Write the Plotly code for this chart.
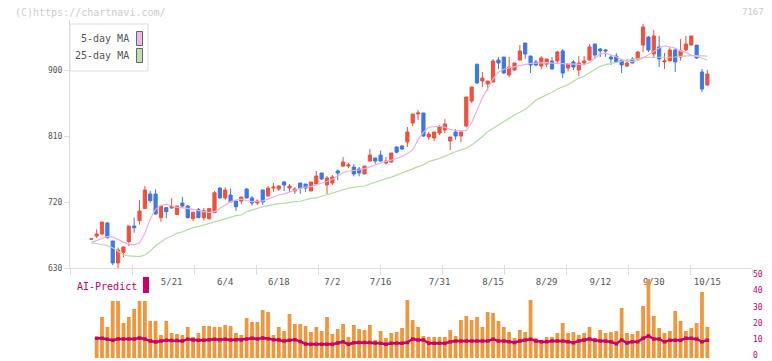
import plotly.graph_objects as go

# ---------------- data ----------------
opens = [669.5, 673.6, 676.4, 691.4, 666.8, 636.8, 651.4, 665.9, 687.3, 694.5,
         711.0, 730.9, 730.9, 698.6, 712.3, 711.8, 703.0, 718.6, 714.5, 697.3,
         709.6, 698.6, 697.3, 705.4, 739.0, 725.5, 729.5, 721.4, 721.4, 737.7,
         725.5, 718.6, 736.4, 728.2, 739.0, 737.7, 747.3, 739.0, 735.0, 745.9,
         744.5, 735.0, 744.5, 759.5, 743.2, 745.9, 762.3, 769.0, 769.0, 767.7,
         765.0, 758.2, 775.9, 780.0, 784.0, 773.2, 774.5, 795.0, 796.4, 801.8,
         827.7, 840.0, 841.4, 808.6, 807.3, 814.0, 818.2, 803.2, 815.5, 810.0,
         823.6, 857.7, 908.0, 885.0, 880.9, 883.6, 913.6, 917.7, 893.2, 900.0,
         913.6, 936.8, 919.0, 911.0, 905.4, 908.0, 912.3, 912.3, 926.0, 902.7,
         911.0, 900.0, 909.5, 913.6, 935.5, 928.6, 927.3, 917.7, 919.0, 913.6,
         905.4, 915.0, 915.0, 934.0, 945.0, 921.8, 931.4, 911.0, 912.3, 927.3,
         917.7, 927.3, 934.0, 934.0, 897.3, 879.5]
highs = [670.0, 682.8, 693.0, 692.7, 667.0, 657.7, 659.0, 687.5, 698.6, 722.3,
         741.8, 735.4, 737.3, 714.5, 713.0, 725.5, 714.5, 726.8, 716.0, 706.0,
         711.8, 711.8, 711.0, 735.0, 740.0, 740.0, 738.6, 721.4, 726.8, 739.0,
         728.2, 723.5, 736.4, 741.8, 746.0, 743.0, 748.6, 744.5, 740.4, 745.9,
         744.5, 747.3, 762.3, 759.5, 755.5, 756.8, 764.5, 781.4, 773.5, 771.8,
         767.7, 769.0, 792.3, 780.0, 790.0, 781.4, 786.8, 796.4, 797.0, 822.3,
         840.0, 845.5, 841.4, 815.5, 815.5, 825.0, 833.0, 808.6, 819.5, 815.5,
         863.2, 877.0, 908.0, 897.3, 885.0, 915.0, 917.7, 917.7, 918.0, 909.5,
         934.0, 937.0, 919.0, 913.6, 919.0, 915.0, 917.7, 926.0, 928.6, 908.0,
         913.6, 919.0, 919.0, 935.5, 935.5, 930.0, 928.6, 920.5, 923.0, 913.6,
         915.0, 917.7, 926.0, 962.7, 946.4, 954.5, 946.4, 923.2, 931.4, 930.0,
         942.3, 946.4, 946.4, 934.0, 901.4, 900.0]
lows = [669.0, 670.9, 675.0, 670.0, 634.0, 630.0, 645.0, 660.0, 678.0, 689.0,
        711.0, 719.0, 703.0, 693.0, 697.7, 711.0, 703.0, 711.4, 698.0, 693.6,
        698.0, 695.0, 696.0, 705.0, 725.0, 723.0, 720.0, 708.0, 717.0, 725.0,
        715.0, 716.0, 716.0, 728.0, 733.6, 735.0, 735.0, 733.6, 731.0, 731.0,
        733.6, 735.0, 743.0, 750.0, 731.0, 743.2, 750.0, 767.7, 766.0, 755.0,
        755.0, 758.0, 775.0, 772.0, 775.0, 771.0, 774.0, 786.0, 791.0, 795.0,
        823.6, 831.8, 809.0, 804.5, 803.0, 811.4, 814.0, 791.0, 805.0, 801.8,
        822.0, 855.0, 881.0, 876.8, 872.0, 883.0, 901.0, 895.0, 890.0, 899.0,
        913.0, 915.0, 896.0, 905.0, 901.0, 904.0, 901.0, 908.0, 889.0, 898.0,
        900.0, 891.8, 906.0, 913.0, 915.0, 917.7, 918.0, 906.8, 909.5, 896.0,
        904.0, 909.0, 913.0, 924.5, 924.5, 916.4, 904.0, 901.4, 912.0, 897.3,
        913.0, 926.0, 933.0, 915.0, 870.0, 879.0]
closes = [669.5, 676.4, 692.7, 671.4, 636.8, 654.5, 658.6, 687.3, 685.0, 707.7,
          736.4, 721.8, 703.6, 714.5, 706.8, 714.5, 714.5, 714.5, 698.6, 706.0,
          698.6, 708.2, 711.0, 732.7, 725.5, 736.4, 720.0, 713.6, 726.8, 725.5,
          718.6, 721.4, 720.0, 739.0, 740.4, 741.8, 743.2, 741.8, 737.7, 739.0,
          739.0, 747.3, 755.5, 751.4, 752.7, 754.0, 759.5, 774.5, 770.5, 758.2,
          759.5, 769.0, 784.0, 775.9, 775.9, 775.9, 786.8, 788.0, 792.3, 815.5,
          840.0, 841.4, 810.0, 812.7, 815.5, 822.3, 826.4, 808.6, 810.0, 815.5,
          863.2, 876.8, 882.3, 889.0, 885.0, 912.3, 909.5, 895.9, 904.0, 909.5,
          926.0, 921.8, 906.8, 906.8, 916.4, 915.0, 901.4, 924.5, 895.9, 908.0,
          904.0, 909.5, 912.3, 931.4, 920.5, 926.0, 926.0, 915.0, 911.0, 906.8,
          909.5, 909.5, 924.5, 958.6, 927.3, 946.4, 915.0, 912.3, 927.3, 911.0,
          926.0, 935.5, 946.4, 916.4, 874.0, 894.5]

ma5 = [665, 667, 670, 673, 672, 669, 665, 662.5, 661.5, 664,
       677, 697, 710, 715.5, 716.8, 714.5, 712.7, 712.3, 711.4, 710,
       708.2, 706.8, 705.4, 706.8, 711.4, 715.9, 720.5, 722.7, 724, 722,
       720.5, 721, 721.5, 724, 727, 729.5, 731, 733, 736, 738.5,
       740.5, 741, 743, 745, 748, 751, 756, 760, 762.3, 763,
       763.6, 765.5, 768.2, 771, 773.5, 775.5, 777, 779.5, 782, 786,
       791, 805, 815, 822, 823, 823.6, 822, 819, 817.5, 817,
       817.3, 828, 845, 862, 875, 888, 897, 901, 903, 904.5,
       906, 908, 909, 909.5, 910, 910, 909.5, 909, 908.5, 908,
       907.5, 907.3, 907.3, 910, 916, 922, 923, 921, 918, 914,
       912, 911.5, 913, 916.4, 921, 925.5, 930, 933, 931, 930,
       926, 924, 920, 918.6, 916, 913.6]
ma25 = [664.5, 663, 661.8, 660.4, 657.7, 652.3, 647.7, 646.4, 646.4, 645.5,
        647.7, 653.2, 660.4, 666, 670.5, 673.6, 677.3, 679.5, 682.8, 685,
        686.4, 688.6, 691, 692.7, 695, 697.7, 699.1, 701.3, 702.3, 706.8,
        709, 711.4, 713.6, 715, 716.8, 717.7, 718.2, 719.6, 720.5, 721,
        723.2, 725, 725.5, 727.7, 729.5, 732.7, 734, 736.8, 739, 740,
        740.5, 741.8, 744.5, 747.3, 749, 751.8, 754, 756.8, 760, 763,
        765.5, 768, 771, 775, 777, 779.5, 782.5, 786, 788.5, 791,
        793.2, 797.7, 803.2, 809, 815.9, 820.5, 826, 830.5, 834, 838.6,
        842.3, 846.4, 852.3, 859, 862.7, 866, 869.6, 874, 876.8, 880,
        884.5, 889, 891.4, 895.9, 900.4, 905, 907.3, 908.6, 910.5, 912.3,
        913.2, 914.1, 915.4, 917.3, 917.3, 917.7, 917.7, 917.7, 917.7, 917.7,
        918.6, 919.5, 919.5, 919.5, 919.5, 919]

volume = [None,
          12.8, 25.5, 19.3, 35.4, 35.4, 21.7, 25.5, 30.4, 35.4, 35.4,
          23.0, 23.0, 14.3, 23.0, 15.5, 14.9, 14.3, 19.3, 13.0, 15.5,
          19.9, 19.9, 19.3, 19.3, 20.5, 19.9, 15.5, 14.3, 24.8, 22.4,
          22.4, 29.8, 28.6, 14.3, 19.3, 16.8, 27.3, 21.1, 21.1, 19.9,
          16.1, 19.3, 16.8, 25.5, 14.9, 18.0, 21.1, 13.0, 20.5, 18.0,
          17.4, 20.5, 11.2, 16.8, 12.4, 15.5, 16.1,
          18.6, 36.0, 23.6, 19.3, 13.7, 13.0, 13.0, 13.0, 13.0, 17.4,
          13.7, 23.6, 26.1, 23.6, 25.5, 19.3, 28.6, 28.0, 23.0, 19.3,
          16.1, 12.4, 17.4, 16.1, 36.0, 12.4, 11.2, 13.0, 13.0, 15.5,
          21.7, 15.5, 16.1, 14.3, 15.5, 19.3, 12.4, 17.4, 15.5, 16.1,
          16.8, 31.1, 15.5, 14.9, 16.8, 32.3, 49.0, 26.1, 18.6, 15.5,
          16.8, 29.2, 23.0, 16.8, 18.6, 21.7, 41.0, 19.3]

predict = [None,
           12.2, 12.2, 11.6, 11.0, 11.8, 11.8, 11.8, 11.8, 12.4, 11.8,
           10.6, 9.9, 10.6, 11.0, 10.8, 10.8, 10.6, 11.6, 11.2, 11.0,
           11.0, 11.4, 11.6, 11.4, 11.6, 11.2, 11.4, 11.2, 11.8, 12.2,
           11.8, 12.4, 12.0, 11.4, 11.4, 10.6, 11.0, 11.4, 10.3, 8.7,
           8.5, 8.5, 8.5, 8.5, 8.5, 9.3, 10.1, 8.5, 9.5, 9.7,
           9.7, 9.7, 9.3, 9.1, 8.5, 9.1, 9.1,
           9.1, 9.7, 11.8, 11.2, 11.2, 9.1, 9.1, 9.1, 9.1, 10.1,
           10.6, 10.6, 10.6, 10.6, 10.6, 10.6, 10.6, 11.6, 10.6, 10.6,
           10.1, 9.7, 10.6, 11.2, 11.6, 10.6, 10.1, 10.1, 10.6, 10.6,
           10.6, 10.1, 9.5, 10.6, 11.2, 11.8, 11.0, 10.6, 10.6, 10.1,
           8.9, 11.2, 9.3, 10.1, 10.1, 12.2, 13.7, 11.8, 11.8, 10.1,
           11.0, 11.0, 11.0, 12.2, 12.2, 11.8, 10.1, 11.0]

tick_labels = ["5/21", "6/4", "6/18", "7/2", "7/16", "7/31",
               "8/15", "8/29", "9/12", "9/30", "10/15"]
tick_index = [15, 25, 35, 45, 54, 65, 75, 85, 95, 105, 115]
price_ticks = [630, 720, 810, 900]
volume_ticks = [0, 10, 20, 30, 40, 50]

# ---------------- layout geometry ----------------
W, H = 772, 361
n = len(closes)
x = list(range(n))
step = 5.357          # px per trading day
x0_px = 91.3          # pixel of first candle
left_px, right_px = 70, 752
xr = [(left_px - x0_px) / step, (right_px - x0_px) / step]
grid_ticks = [(left_px + 62 * k - x0_px) / step for k in range(12)]

def fy(py):
    return 1 - py / H

def fx(px):
    return (px - left_px) / (right_px - left_px)

main_dom = [fy(268), fy(20)]
px_per_unit = 66 / 90
main_top = 630 + (268 - 20) / px_per_unit
vol_dom = [fy(358), fy(277.5)]

RED = "#f0503c"
BLUE = "#3d77e6"
AXC = "#dddddd"
TXT = "#555555"
MAG = "#cc0066"
ORANGE = "#f2963c"
MONO = "DejaVu Sans Mono"

fig = go.Figure()

fig.add_trace(go.Scatter(x=x, y=ma25, mode="lines",
                         line=dict(color="#b4dca6", width=1.2),
                         xaxis="x", yaxis="y", hoverinfo="skip"))
fig.add_trace(go.Scatter(x=x, y=ma5, mode="lines",
                         line=dict(color="#e8b2e8", width=1.2),
                         xaxis="x", yaxis="y", hoverinfo="skip"))
fig.add_trace(go.Candlestick(
    x=x, open=opens, high=highs, low=lows, close=closes,
    increasing=dict(line=dict(color=RED, width=1), fillcolor=RED),
    decreasing=dict(line=dict(color=BLUE, width=1), fillcolor=BLUE),
    whiskerwidth=0, xaxis="x", yaxis="y"))

fig.add_trace(go.Bar(x=x, y=volume, marker=dict(color=ORANGE, line=dict(width=0)),
                     xaxis="x4", yaxis="y2"))
fig.add_trace(go.Scatter(x=x, y=predict, mode="lines+markers",
                         line=dict(color=MAG, width=2.5),
                         marker=dict(color=MAG, size=3.5, symbol="square"),
                         xaxis="x4", yaxis="y2"))

fig.update_layout(
    template="none",
    width=W, height=H,
    margin=dict(l=left_px, r=W - right_px, t=0, b=0, autoexpand=False),
    paper_bgcolor="white", plot_bgcolor="white",
    showlegend=False,
    boxgap=0.15,
    bargap=0.3,
    xaxis=dict(domain=[0, 1], range=xr, anchor="y", automargin=False,
               showline=True, linecolor=AXC, linewidth=1,
               tickvals=tick_index, ticktext=tick_labels,
               ticks="", ticklabelstandoff=5,
               tickfont=dict(family=MONO, size=9, color=TXT),
               showgrid=False, zeroline=False, rangeslider=dict(visible=False),
               fixedrange=True),
    xaxis2=dict(overlaying="x", anchor="y", range=xr, tickvals=grid_ticks,
                automargin=False,
                ticks="outside", ticklen=6, tickcolor=AXC, showticklabels=False,
                showgrid=False, zeroline=False, showline=False),
    xaxis3=dict(overlaying="x", anchor="y", range=xr, tickvals=grid_ticks,
                automargin=False,
                ticks="inside", ticklen=3, tickcolor=AXC, showticklabels=False,
                showgrid=False, zeroline=False, showline=False),
    xaxis4=dict(domain=[0, 1], range=xr, anchor="y2", visible=False,
                automargin=False),
    yaxis=dict(domain=main_dom, range=[630, main_top], anchor="x",
               automargin=False,
               showline=True, linecolor=AXC, linewidth=1,
               tickvals=price_ticks, ticks="outside", ticklen=5, tickcolor=AXC,
               tickfont=dict(family=MONO, size=8, color=TXT),
               showgrid=False, zeroline=False),
    yaxis2=dict(domain=vol_dom, range=[0, 50], anchor="x4", side="right",
                automargin=False, ticklabeloverflow="allow",
                ticklabelshift=-3,
                tickvals=volume_ticks, ticks="", showline=False,
                tickfont=dict(family=MONO, size=8, color=MAG),
                showgrid=False, zeroline=False),
)

# dummy traces to activate the overlay tick axes
fig.add_trace(go.Scatter(x=[xr[0]], y=[None], xaxis="x2", yaxis="y", showlegend=False))
fig.add_trace(go.Scatter(x=[xr[0]], y=[None], xaxis="x3", yaxis="y", showlegend=False))

# legend box (drawn as decoration)
fig.add_shape(type="rect", xref="paper", yref="paper",
              x0=fx(70), x1=fx(148), y0=fy(71), y1=fy(24),
              line=dict(color="#dddddd", width=1), fillcolor="white", layer="above")
legend_items = [("5-day MA", "#eab8ea", 38.5), ("25-day MA", "#bde0b0", 55.5)]
for label, col, cy in legend_items:
    fig.add_shape(type="rect", xref="paper", yref="paper",
                  x0=fx(136.5), x1=fx(142.5), y0=fy(cy + 7), y1=fy(cy - 7),
                  line=dict(color="#666666", width=1), fillcolor=col, layer="above")
    fig.add_annotation(text=label, xref="paper", yref="paper",
                       x=fx(131), y=fy(cy), xanchor="right", yanchor="middle",
                       showarrow=False, font=dict(family=MONO, size=10, color=TXT))

# AI-Predict label
fig.add_annotation(text="AI-Predict", xref="paper", yref="paper",
                   x=fx(75), y=fy(286), xanchor="left", yanchor="middle",
                   showarrow=False, font=dict(family=MONO, size=10, color=MAG))
fig.add_shape(type="rect", xref="paper", yref="paper",
              x0=fx(143), x1=fx(149), y0=fy(293), y1=fy(277),
              line=dict(width=0), fillcolor=MAG)

# watermark and code
fig.add_annotation(text="(C)https://chartnavi.com/", xref="paper", yref="paper",
                   x=fx(13), y=fy(12), xanchor="left", yanchor="middle",
                   showarrow=False, font=dict(family=MONO, size=10, color="#cccccc"))
fig.add_annotation(text="7167", xref="paper", yref="paper",
                   x=fx(766), y=fy(12), xanchor="right", yanchor="middle",
                   showarrow=False, font=dict(family=MONO, size=9, color="#cccccc"))

fig.write_html("out.html",
               config={"displayModeBar": False},
               post_script="document.body.style.margin='0';"
                           "document.body.style.overflow='hidden';")
